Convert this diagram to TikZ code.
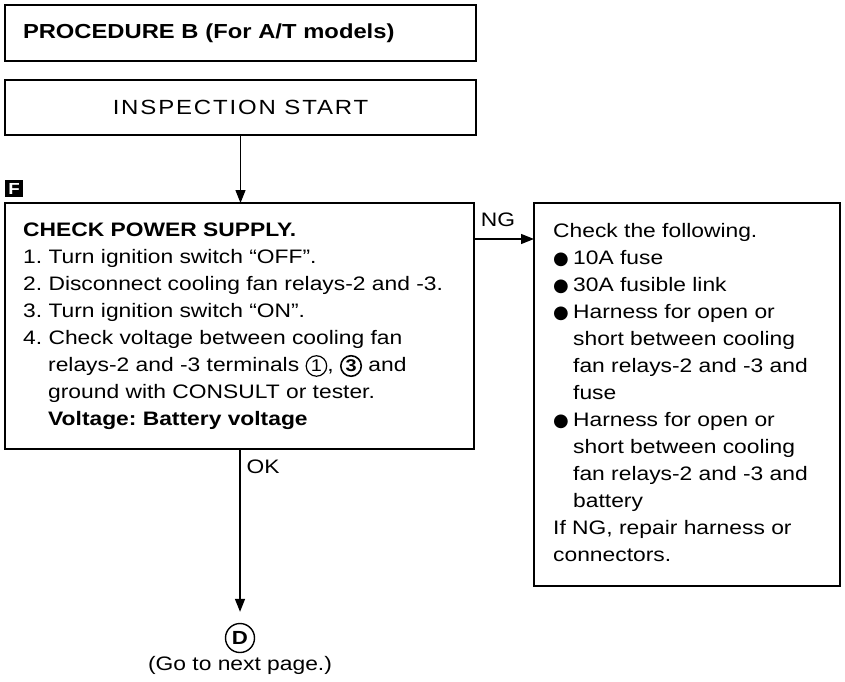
\documentclass[tikz,border=0pt]{standalone}
\usepackage{fontspec}
\setmainfont{Liberation Sans}[FakeStretch=1.17]
\newfontfamily\symfont{DejaVu Sans}
\usetikzlibrary{positioning, calc, arrows.meta}
\frenchspacing

% small circled terminal numbers inside the text
\newcommand\circnum[2][]{\tikz[baseline=(cn.base)]\node[draw, circle, inner sep=0pt, minimum size=20.5pt, line width=1.2pt, font={\fontsize{17}{17}\selectfont}, #1] (cn) {#2};}
\newcommand\numgap{\hspace*{25pt}}
\newcommand\itembul{\makebox[20pt][l]{\symfont\fontsize{18}{18}\selectfont ●}}
\newcommand\itemgap{\hspace*{20pt}}

\begin{document}
\begin{tikzpicture}[x=1pt, y=-1pt, >={Triangle[length=13pt,width=10pt]},
    font=\fontsize{19.5}{27}\selectfont,
    box/.style={draw, rectangle, line width=1.8pt, inner sep=0pt, outer sep=0pt, anchor=north west},
    boxtext/.style={align=left, inner sep=0pt, anchor=north west},
    flow/.style={->, line width=1.3pt}]

    \useasboundingbox (0,0) rectangle (845,681);

    % ==========================================
    % Header boxes
    % ==========================================
    \node[box, text width=435, inner xsep=18, minimum height=56, align=left, font=\fontsize{20.3}{27}\selectfont\bfseries] (proc) at (5,5) {PROCEDURE B (For A/T models)};
    \node[box, minimum width=471, minimum height=55, font=\fontsize{20.5}{27}\selectfont\addfontfeature{LetterSpace=9}] (start) at (5,80) {INSPECTION START};

    % Step marker
    \node[fill=black, text=white, inner sep=0pt, minimum width=18, minimum height=17, anchor=north west, font=\fontsize{16}{16}\selectfont\bfseries] (fmark) at (5,180) {F};

    % ==========================================
    % Check box and NG box
    % ==========================================
    \node[box, minimum width=469, minimum height=246] (check) at (5,203) {};
    \node[boxtext] (checktxt) at ($(check.north west)+(18,20)$) {%
        {\bfseries CHECK POWER SUPPLY.}\\
        1. Turn ignition switch “OFF”.\\
        2. Disconnect cooling fan relays-2 and -3.\\
        3. Turn ignition switch “ON”.\\
        4. Check voltage between cooling fan\\
        \numgap relays-2 and -3 terminals \circnum{1}, \circnum[line width=1.6pt, font={\fontsize{17}{17}\selectfont\bfseries}]{3} and\\
        \numgap ground with CONSULT or tester.\\
        \numgap {\bfseries Voltage: Battery voltage}};

    \node[box, minimum width=306, minimum height=383] (ngbox) at (534,203) {};
    \node[boxtext] (ngtxt) at ($(ngbox.north west)+(19,20)$) {%
        Check the following.\\
        \itembul 10A fuse\\
        \itembul 30A fusible link\\
        \itembul Harness for open or\\
        \itemgap short between cooling\\
        \itemgap fan relays-2 and -3 and\\
        \itemgap fuse\\
        \itembul Harness for open or\\
        \itemgap short between cooling\\
        \itemgap fan relays-2 and -3 and\\
        \itemgap battery\\
        If NG, repair harness or\\
        connectors.};

    % Next page mark
    \node[draw, circle, line width=1.4pt, inner sep=0pt, minimum size=29, font=\fontsize{19}{19}\selectfont\bfseries] (dmark) at (240,638) {D};
    \node[below=0pt of dmark] (nextpage) {(Go to next page.)};

    % Connectors
    \draw[flow] (start.south) -- (start.south |- check.north);
    \draw[flow] ([yshift=-36]check.north east) -- ([yshift=-36]ngbox.north west)
        node[pos=0.4, above=12pt, inner sep=0pt] {NG};
    \draw[flow, shorten >=11pt] (check.south -| dmark.north) -- (dmark.north)
        node[pos=0.1, right, inner sep=6pt] {OK};

\end{tikzpicture}
\end{document}
